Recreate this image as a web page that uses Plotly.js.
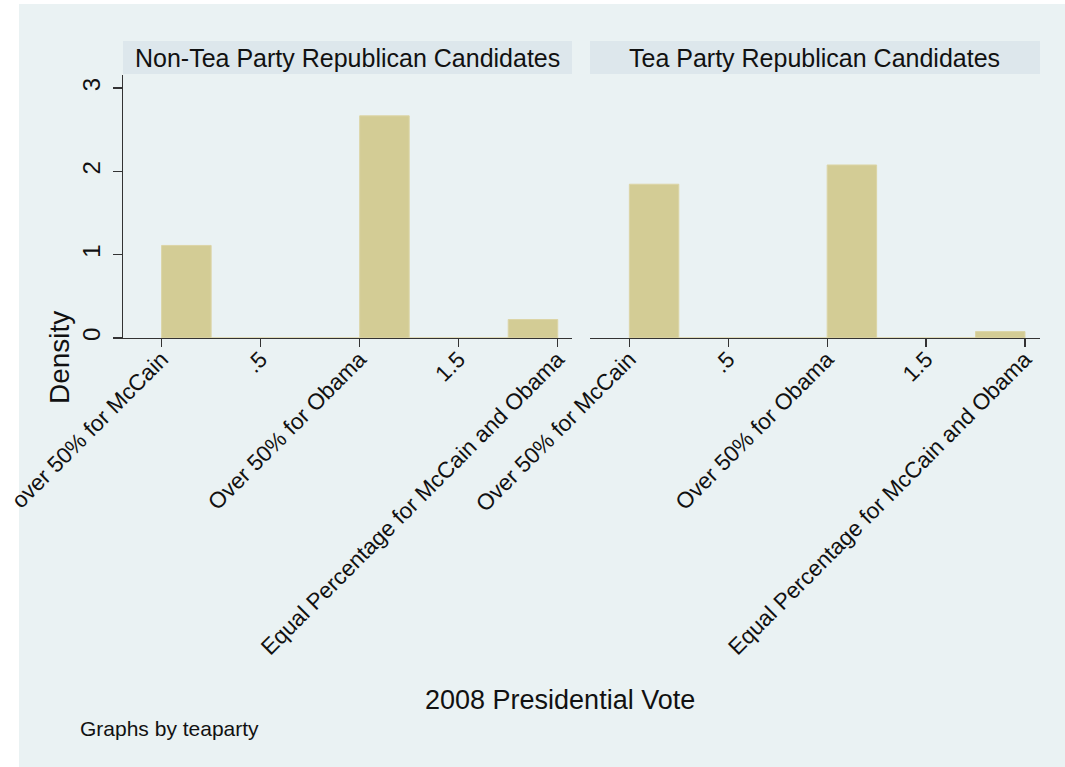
<!DOCTYPE html>
<html>
<head>
<meta charset="utf-8">
<script src="https://cdn.plot.ly/plotly-3.0.1.min.js"></script>
<style>html,body{margin:0;padding:0;background:#fff;}#chart{width:1065px;height:767px;}</style>
</head>
<body>
<div id="chart"></div>
<script>
// Histogram bins (lower edges, width 0.25) of the 2008 vote category code
const binLower = [0, 0.25, 0.5, 0.75, 1, 1.25, 1.5, 1.75];
const binWidth = 0.25;
// Densities per bin
const densityNonTea = [1.111, 0, 0, 0, 2.667, 0, 0, 0.222];
const densityTea    = [1.846, 0, 0, 0, 2.077, 0, 0, 0.077];
// Panels
const panelTitles = ["Non-Tea Party Republican Candidates", "Tea Party Republican Candidates"];
// Tick labels
const xTickVals = [0, 0.5, 1, 1.5, 2];
const xTickTextNonTea = ["over 50% for McCain", ".5", "Over 50% for Obama", "1.5", "Equal Percentage for McCain and Obama"];
const xTickTextTea    = ["Over 50% for McCain", ".5", "Over 50% for Obama", "1.5", "Equal Percentage for McCain and Obama"];
const yTickVals = [0, 1, 2, 3];
const yTickText = ["0", "1", "2", "3"];
const yTitle = "Density";
const xTitle = "2008 Presidential Vote";
const note = "Graphs by teaparty";

const W = 1065, H = 767;
const px = v => v / W;
const py = v => 1 - v / H;
const FONT = "Liberation Sans, Arial, Helvetica, sans-serif";
const barColor = "#d3cc95";
const barLine = "#dcd5a6";

function barTrace(dens, xa, ya) {
  return {
    type: "bar",
    x: binLower,
    y: dens,
    width: binLower.map(() => binWidth),
    offset: 0,
    xaxis: xa, yaxis: ya,
    marker: {color: barColor, line: {color: barLine, width: 1}},
    hoverinfo: "x+y",
    showlegend: false
  };
}

const data = [
  barTrace(densityNonTea, "x", "y"),
  barTrace(densityTea, "x2", "y2")
];

const yDom = [py(338), py(75)];
const dom1 = [px(123), px(572)];
const dom2 = [px(590), px(1040)];

const xCommon = {
  tickmode: "array",
  tickvals: xTickVals,
  ticks: "outside",
  ticklen: 8,
  tickwidth: 1.2,
  tickcolor: "#333",
  tickangle: -45,
  ticklabelstandoff: -10,
  tickfont: {family: FONT, size: 22.5, color: "#111"},
  showline: true,
  linecolor: "#333",
  linewidth: 1.2,
  showgrid: false,
  zeroline: false,
  automargin: false,
  fixedrange: true
};

const layout = {
  width: W, height: H,
  margin: {l: 0, r: 0, t: 0, b: 0, pad: 0},
  paper_bgcolor: "#ffffff",
  plot_bgcolor: "#ffffff",
  bargap: 0,
  font: {family: FONT, color: "#111"},
  xaxis: Object.assign({}, xCommon, {domain: dom1, range: [-0.195, 2.072], anchor: "y", ticktext: xTickTextNonTea}),
  xaxis2: Object.assign({}, xCommon, {domain: dom2, range: [-0.199, 2.076], anchor: "y2", ticktext: xTickTextTea}),
  yaxis: {
    domain: yDom, range: [0, 3.157], anchor: "x",
    tickmode: "array", tickvals: yTickVals, ticktext: yTickText,
    ticks: "outside", ticklen: 9, tickwidth: 1.2, tickcolor: "#333",
    tickangle: -90, ticklabelstandoff: 3,
    tickfont: {family: FONT, size: 24, color: "#111"},
    showline: true, linecolor: "#333", linewidth: 1.2,
    showgrid: true, gridcolor: "#eaf2f3", gridwidth: 1.2,
    zeroline: false, automargin: false, fixedrange: true
  },
  yaxis2: {
    domain: yDom, range: [0, 3.157], anchor: "x2",
    tickmode: "array", tickvals: yTickVals,
    showticklabels: false, ticks: "",
    showline: false,
    showgrid: true, gridcolor: "#eaf2f3", gridwidth: 1.2,
    zeroline: false, automargin: false, fixedrange: true
  },
  shapes: [
    {type: "rect", xref: "paper", yref: "paper", x0: px(19), x1: 1, y0: 0, y1: py(4),
     fillcolor: "#eaf2f3", line: {width: 0}, layer: "below"},
    {type: "rect", xref: "paper", yref: "paper", x0: dom1[0], x1: dom1[1], y0: py(74), y1: py(41),
     fillcolor: "#dde7ec", line: {width: 0}, layer: "below"},
    {type: "rect", xref: "paper", yref: "paper", x0: dom2[0], x1: dom2[1], y0: py(74), y1: py(41),
     fillcolor: "#dde7ec", line: {width: 0}, layer: "below"}
  ],
  annotations: [
    {text: panelTitles[0], xref: "paper", yref: "paper", x: (dom1[0] + dom1[1]) / 2, y: py(57.5),
     xanchor: "center", yanchor: "middle", showarrow: false, font: {family: FONT, size: 25, color: "#111"}},
    {text: panelTitles[1], xref: "paper", yref: "paper", x: (dom2[0] + dom2[1]) / 2, y: py(57.5),
     xanchor: "center", yanchor: "middle", showarrow: false, font: {family: FONT, size: 25, color: "#111"}},
    {text: yTitle, xref: "paper", yref: "paper", x: px(59), y: py(358), textangle: -90,
     xanchor: "center", yanchor: "middle", showarrow: false, font: {family: FONT, size: 28, color: "#111"}},
    {text: xTitle, xref: "paper", yref: "paper", x: px(560), y: py(700),
     xanchor: "center", yanchor: "middle", showarrow: false, font: {family: FONT, size: 27, color: "#111"}},
    {text: note, xref: "paper", yref: "paper", x: px(78), y: py(728),
     xanchor: "left", yanchor: "middle", showarrow: false, font: {family: FONT, size: 21, color: "#111"}}
  ]
};

Plotly.newPlot("chart", data, layout, {displayModeBar: false, staticPlot: true});
</script>
</body>
</html>
